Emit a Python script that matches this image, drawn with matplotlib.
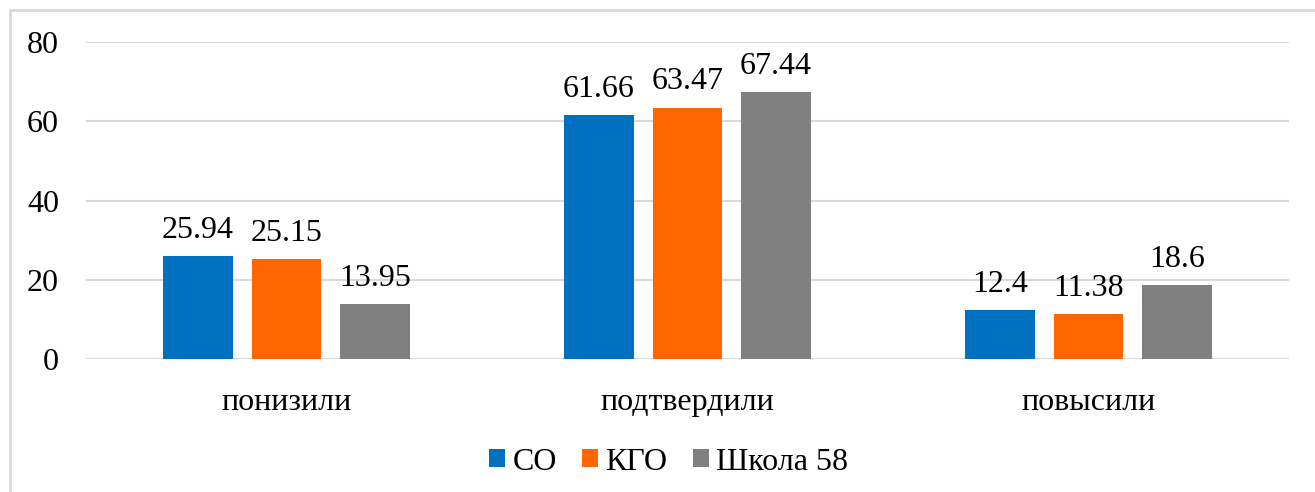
import matplotlib.pyplot as plt
import numpy as np
from matplotlib.patches import Rectangle

categories = ["понизили", "подтвердили", "повысили"]
series_names = ["СО", "КГО", "Школа 58"]
so = [25.94, 61.66, 12.4]
kgo = [25.15, 63.47, 11.38]
school = [13.95, 67.44, 18.6]
colors = ["#0070C0", "#FF6600", "#808080"]

plt.rcParams["font.family"] = ["Liberation Serif", "DejaVu Serif"]
fs = 23

fig = plt.figure(figsize=(13.15, 4.92), dpi=100)
ax = fig.add_axes([86/1315, 1-359/492, 1203/1315, 317/492])

x = np.arange(len(categories))
w = 0.174
step = 0.221
for i, (vals, name) in enumerate(zip([so, kgo, school], series_names)):
    bars = ax.bar(x + (i-1)*step, vals, w, color=colors[i], label=name, zorder=3)
    for b, v in zip(bars, vals):
        ax.annotate(f"{v:g}", (b.get_x()+b.get_width()/2, v), xytext=(0, 8),
                    textcoords="offset points", ha="center", va="bottom", fontsize=fs)

ax.set_xlim(-0.5, 2.5)
ax.set_ylim(0, 80)
ax.set_yticks([0, 20, 40, 60, 80])
ax.yaxis.grid(True, color="#D9D9D9", linewidth=1.5, zorder=0)
for s in ["top", "right", "left", "bottom"]:
    ax.spines[s].set_visible(False)
ax.axhline(0, color="#D9D9D9", linewidth=1.5, zorder=1)
ax.tick_params(axis="both", length=0, labelsize=fs)
ax.tick_params(axis="y", pad=19.5)
ax.tick_params(axis="x", pad=21)
ax.set_xticks(x)
ax.set_xticklabels(categories)

fig.legend(loc="center", bbox_to_anchor=(0.5085, 1-462/492), ncol=3, frameon=False,
           fontsize=fs, handlelength=0.5, handleheight=0.47, handletextpad=0.22,
           columnspacing=0.8)

fig.patches.append(Rectangle((9.5/1315, -0.05), 1.1, 1.05-10.5/492, transform=fig.transFigure,
                             fill=False, edgecolor="#D9D9D9", linewidth=2, clip_on=False))

fig.savefig("out.png", dpi=100)
